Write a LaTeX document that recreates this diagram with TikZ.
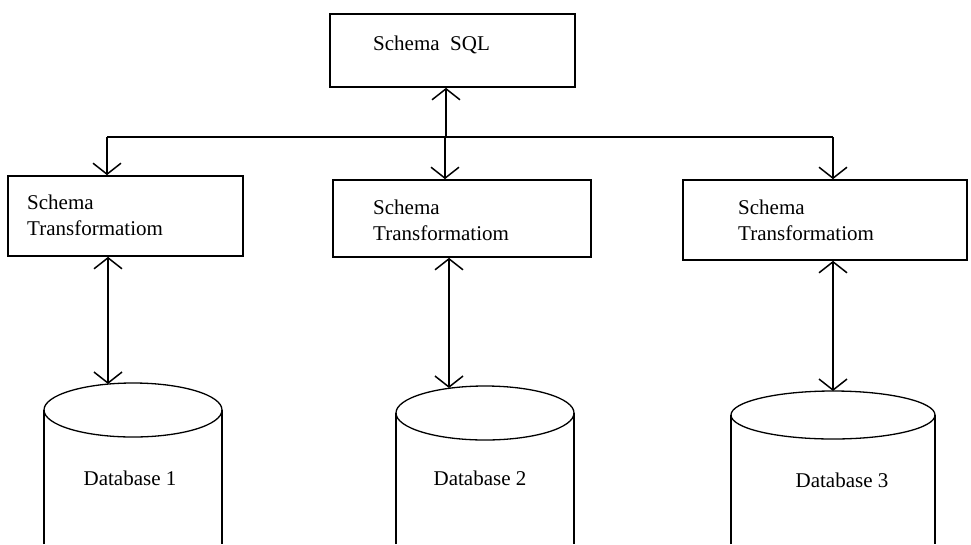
\documentclass[tikz,border=0pt]{standalone}
\usepackage{fontspec}
\setmainfont{Liberation Serif}
\usetikzlibrary{arrows.meta}
\begin{document}
\begin{tikzpicture}[x=1pt,y=-1pt,
  box/.style={draw, line width=1.7pt, inner sep=0pt},
  lbl/.style={font=\fontsize{21}{26}\selectfont, align=left, inner sep=0pt, anchor=west},
  dblbl/.style={font=\fontsize{21}{26}\selectfont, inner sep=0pt},
  conn/.style={line width=1.3pt},
  barb/.tip={Straight Barb[length=11pt,width=28pt,line width=1.5pt]},
  onetip/.style={conn,-barb},
  twotip/.style={conn,barb-barb}]
\useasboundingbox[fill=white] (0,0) rectangle (971,544);

% boxes
\node[box, minimum width=245pt, minimum height=73pt] (top) at (452.5,50.5) {};
\node[lbl] (ttop) at (373,45) {Schema\ \ SQL};
\node[box, minimum width=235pt, minimum height=80pt] (b1) at (125.5,216) {};
\node[lbl] (t1) at (27,215) {Schema\\Transformatiom};
\node[box, minimum width=258pt, minimum height=77pt] (b2) at (462,218.5) {};
\node[lbl] (t2) at (373,220) {Schema\\Transformatiom};
\node[box, minimum width=284pt, minimum height=80pt] (b3) at (825,220) {};
\node[lbl] (t3) at (738,220) {Schema\\Transformatiom};

% junctions
\coordinate (hub) at (446,137);
\coordinate (j1) at (107,137);
\coordinate (j2) at (445,137);
\coordinate (j3) at (833,137);
\draw[conn] (j1) -- (j3);
\draw[onetip] (hub) -- (top.south -| hub);
\draw[onetip] (j1) -- (b1.north -| j1);
\draw[onetip] (j2) -- (b2.north -| j2);
\draw[onetip] (j3) -- (b3.north -| j3);

% cylinders
\draw[conn] (44,544) -- (44,410);
\draw[conn] (222,410) -- (222,544);
\draw[conn] (133,410) ellipse [x radius=89pt, y radius=27pt];
\coordinate (d1) at (108,384);
\node[dblbl] (db1) at (130,478) {Database 1};

\draw[conn] (396,544) -- (396,413);
\draw[conn] (574,413) -- (574,544);
\draw[conn] (485,413) ellipse [x radius=89pt, y radius=27pt];
\coordinate (d2) at (449,388);
\node[dblbl] (db2) at (480,478) {Database 2};

\draw[conn] (731,544) -- (731,415);
\draw[conn] (935,415) -- (935,544);
\draw[conn] (833,415) ellipse [x radius=102pt, y radius=24pt];
\coordinate (d3) at (833,391);
\node[dblbl] (db3) at (842,480) {Database 3};

% vertical double arrows
\draw[twotip] (b1.south -| d1) -- (d1);
\draw[twotip] (b2.south -| d2) -- (d2);
\draw[twotip] (b3.south -| d3) -- (d3);
\end{tikzpicture}
\end{document}
